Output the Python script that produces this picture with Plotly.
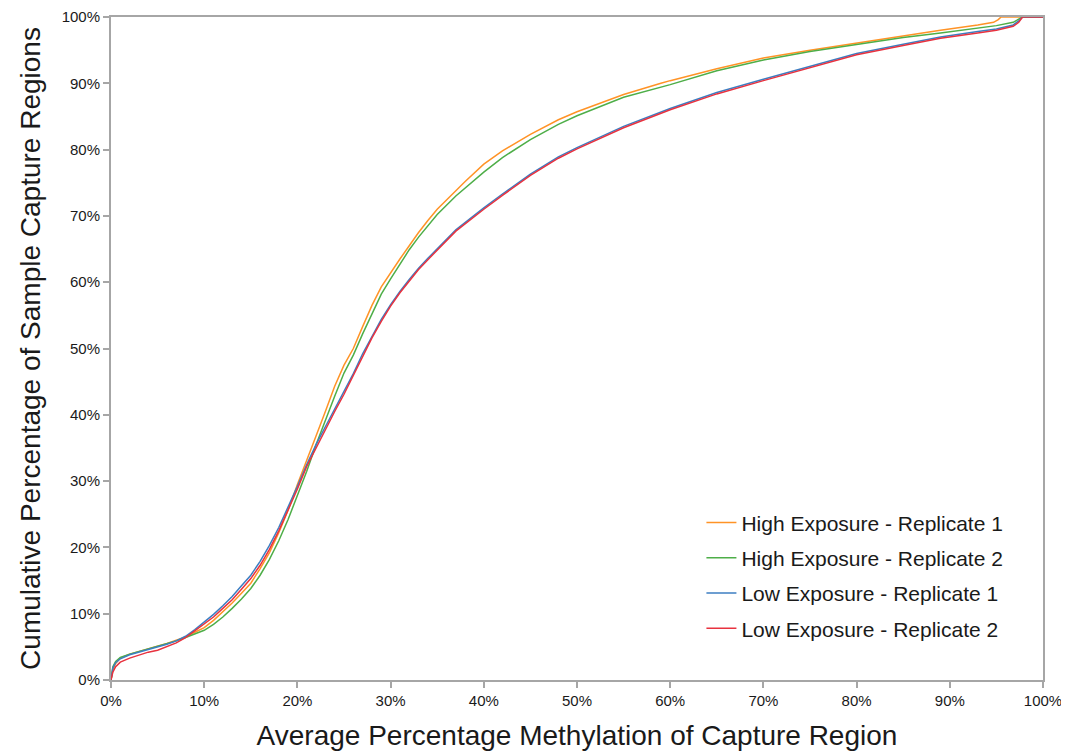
import plotly.graph_objects as go

# Average percentage methylation (x, %) and cumulative percentage (y, %)
hi1_x = [0, 0.2, 0.5, 1, 2, 3, 4, 5, 6, 7, 8, 9, 10, 11, 12, 13, 14, 15, 16, 17, 18, 19, 20, 21, 22, 23, 24, 25, 26, 27, 28, 29, 30, 31, 32, 33, 34, 35, 37, 38, 40, 42, 45, 48, 50, 55, 59, 60, 65, 70, 75, 80, 85, 89, 93, 94.7, 95.2, 95.5, 100]
hi1_y = [0, 1.5, 2.5, 3.3, 3.9, 4.3, 4.7, 5.0, 5.5, 6.0, 6.5, 7.2, 7.9, 9.0, 10.3, 11.6, 13.1, 14.6, 16.8, 19.2, 22.2, 25.6, 29.5, 33.0, 36.8, 40.5, 44.3, 47.5, 50.0, 53.3, 56.5, 59.3, 61.5, 63.5, 65.5, 67.5, 69.3, 71.0, 73.8, 75.2, 77.8, 79.8, 82.3, 84.5, 85.7, 88.3, 90.0, 90.4, 92.2, 93.8, 95.0, 96.1, 97.1, 98.0, 98.8, 99.2, 99.6, 100, 100]

hi2_x = [0, 0.2, 0.5, 1, 2, 3, 4, 5, 6, 7, 8, 9, 10, 11, 12, 13, 14, 15, 16, 17, 18, 19, 20, 21, 22, 23, 24, 25, 26, 27, 28, 29, 30, 31, 32, 33, 34, 35, 37, 39, 40, 42, 45, 48, 50, 55, 59, 60, 65, 70, 75, 80, 85, 89, 93, 95, 96.8, 97.5, 97.8, 100]
hi2_y = [0, 2.0, 2.8, 3.4, 3.9, 4.3, 4.7, 5.0, 5.4, 5.9, 6.4, 6.9, 7.5, 8.4, 9.5, 10.8, 12.2, 13.8, 15.8, 18.2, 21.0, 24.2, 27.8, 31.5, 35.5, 39.3, 42.8, 46.3, 49.0, 52.2, 55.2, 58.2, 60.5, 62.7, 64.9, 66.8, 68.5, 70.2, 73.0, 75.5, 76.6, 78.8, 81.5, 83.8, 85.1, 87.9, 89.4, 89.8, 91.9, 93.5, 94.8, 95.9, 96.9, 97.6, 98.3, 98.7, 99.2, 99.7, 100, 100]

lo1_x = [0, 0.2, 0.5, 1, 2, 3, 4, 5, 6, 7, 8, 9, 10, 11, 12, 13, 14, 15, 16, 17, 18, 19, 20, 21, 22, 23, 24, 25, 26, 27, 28, 29, 30, 31, 32, 33, 34, 35, 37, 40, 42, 45, 48, 50, 55, 60, 65, 70, 75, 80, 85, 89, 93, 95, 96.8, 97.4, 97.8, 100]
lo1_y = [0, 1.8, 2.6, 3.2, 3.8, 4.2, 4.6, 4.9, 5.4, 5.9, 6.6, 7.6, 8.7, 9.9, 11.2, 12.6, 14.2, 15.8, 17.9, 20.3, 23.0, 26.0, 29.2, 32.5, 35.5, 38.2, 40.8, 43.4, 46.2, 49.2, 51.9, 54.4, 56.6, 58.6, 60.4, 62.1, 63.6, 65.0, 67.9, 71.2, 73.3, 76.3, 78.9, 80.3, 83.5, 86.2, 88.6, 90.6, 92.6, 94.5, 95.9, 97.0, 97.8, 98.2, 98.8, 99.4, 100, 100]

lo2_x = [0, 0.2, 0.5, 1, 2, 3, 4, 5, 6, 7, 8, 9, 10, 11, 12, 13, 14, 15, 16, 17, 18, 19, 20, 21, 22, 23, 24, 25, 26, 27, 28, 29, 30, 31, 32, 33, 34, 35, 37, 40, 42, 45, 48, 50, 55, 60, 65, 70, 75, 80, 85, 89, 93, 95, 96.8, 97.4, 97.8, 100]
lo2_y = [0, 1.2, 2.0, 2.7, 3.3, 3.8, 4.2, 4.5, 5.0, 5.6, 6.4, 7.4, 8.4, 9.5, 10.8, 12.1, 13.7, 15.3, 17.3, 19.7, 22.5, 25.6, 28.8, 32.2, 35.0, 37.9, 40.5, 43.1, 45.9, 48.9, 51.6, 54.1, 56.4, 58.4, 60.2, 61.9, 63.4, 64.8, 67.7, 71.0, 73.1, 76.1, 78.7, 80.1, 83.3, 86.0, 88.4, 90.4, 92.4, 94.3, 95.7, 96.8, 97.6, 98.0, 98.6, 99.2, 100, 100]

series_names = ["High Exposure - Replicate 1", "High Exposure - Replicate 2",
                "Low Exposure - Replicate 1", "Low Exposure - Replicate 2"]
series_x = [hi1_x, hi2_x, lo1_x, lo2_x]
series_y = [hi1_y, hi2_y, lo1_y, lo2_y]
colors = ["#FF9326", "#4EAE48", "#3C7EC2", "#E8323F"]

fig = go.Figure()
for name, xs, ys, c in zip(series_names, series_x, series_y, colors):
    fig.add_trace(go.Scatter(x=xs, y=ys, mode="lines", name=name, legendgroup=name,
                             line=dict(color=c, width=1.5)))

axis_common = dict(
    range=[0, 100], dtick=10, ticksuffix="%", showgrid=False, zeroline=False,
    showline=True, linecolor="#A6A6A6", linewidth=2, mirror=True,
    ticks="outside", ticklen=6, tickcolor="#A6A6A6", tickwidth=1.5,
    tickfont=dict(family="Liberation Sans, Arial, sans-serif", size=15, color="#1a1a1a"),
    automargin=False,
)

fig.update_layout(
    width=1069, height=756,
    margin=dict(l=103, r=34, t=9, b=84),
    paper_bgcolor="white", plot_bgcolor="white",
    font=dict(family="Liberation Sans, Arial, sans-serif", color="#1a1a1a"),
    xaxis=dict(**axis_common,
               title=dict(text="Average Percentage Methylation of Capture Region",
                          font=dict(size=28, color="#1a1a1a"), standoff=17)),
    yaxis=dict(**axis_common,
               title=dict(text="Cumulative Percentage of Sample Capture Regions",
                          font=dict(size=28, color="#1a1a1a"), standoff=13)),
    legend=dict(x=0.6335, y=0.268, xanchor="left", yanchor="top",
                font=dict(size=21, color="#1a1a1a"), bgcolor="rgba(0,0,0,0)",
                tracegroupgap=5),
    showlegend=True,
)

fig.write_html("out.html")
